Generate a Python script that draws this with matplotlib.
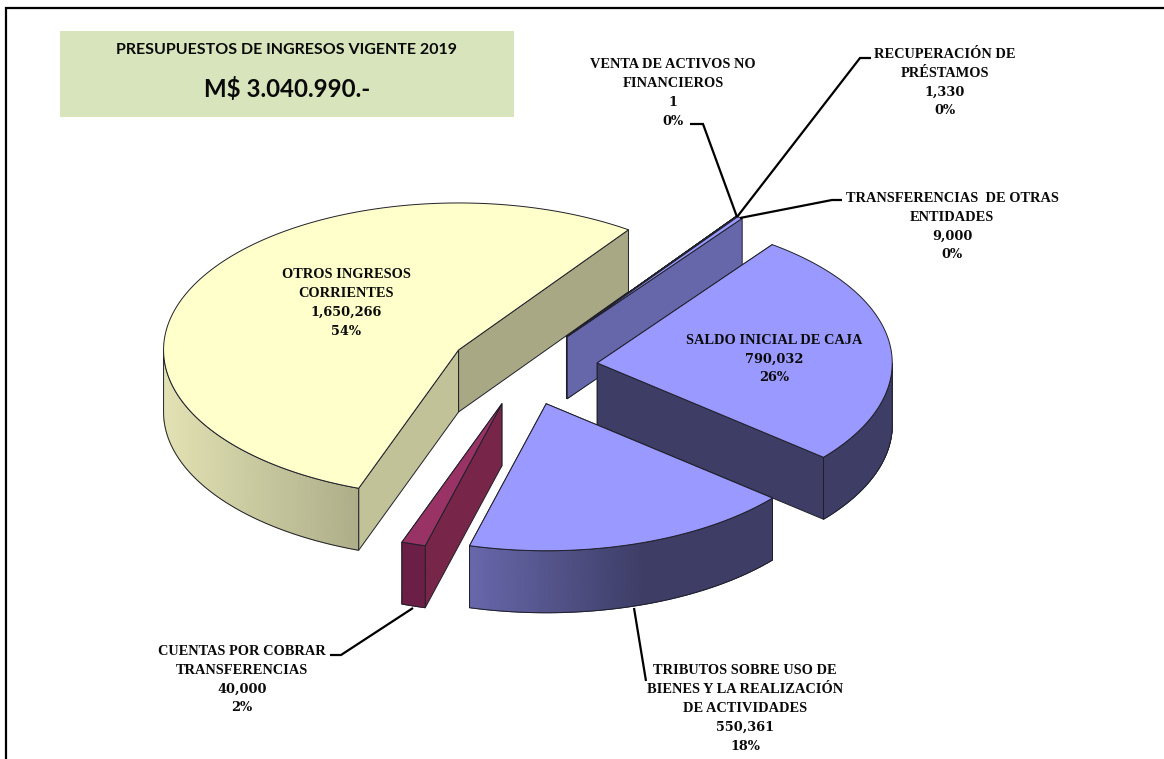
import numpy as np
import matplotlib
matplotlib.use("Agg")
import matplotlib.pyplot as plt
from matplotlib.colors import LinearSegmentedColormap
from matplotlib.patches import Polygon, Rectangle

# ---- data (counter-clockwise from the first slice) ----
names = ["OTROS INGRESOS\nCORRIENTES", "CUENTAS POR COBRAR\nTRANSFERENCIAS",
         "TRIBUTOS SOBRE USO DE\nBIENES Y LA REALIZACIÓN\nDE ACTIVIDADES",
         "SALDO INICIAL DE CAJA", "TRANSFERENCIAS  DE OTRAS\nENTIDADES",
         "RECUPERACIÓN DE\nPRÉSTAMOS", "VENTA DE ACTIVOS NO\nFINANCIEROS"]
values = [1650266, 40000, 550361, 790032, 9000, 1330, 1]
pct_labels = ["54%", "2%", "18%", "26%", "0%", "0%", "0%"]
title_line = "PRESUPUESTOS DE INGRESOS VIGENTE 2019"
total_line = "M$ 3.040.990.-"

# ---- styles ----
top_colors = ["#FFFFCC", "#993366", "#9999FF", "#9999FF", "#9999FF", "#9999FF", "#9999FF"]
start_wall = ["#A8A884", "#6B1F47", "#3D3D66", "#3D3D66", "#6666AA", "#6666AA", "#6666AA"]
end_wall = ["#C2C299", "#772549", "#3D3D66", "#3D3D66", "#6666AA", "#6666AA", "#6666AA"]
outer_grad = [("#E2E2B4", "#AEAE8A", 163, 358), ("#6B1F47", "#6B1F47", 400, 424),
              ("#6868AC", "#3D3D66", 468, 645), ("#3D3D66", "#3D3D66", 597, 893),
              ("#6666AA", "#6666AA", 700, 800), ("#6666AA", "#6666AA", 700, 800),
              ("#6666AA", "#6666AA", 700, 800)]
draw_order = [0, 6, 5, 4, 3, 1, 2]
label_xy = [(346, 301.5), (242, 678), (745, 707), (774, 357.5), (952, 225), (945, 81), (673, 91.5)]
LINE_STEP = 18.9
leaders = [None,
           [(413, 608), (341, 655), (330, 655)],
           [(634, 608), (646, 681)],
           None,
           [(740, 218), (832, 200), (842, 200)],
           [(737, 217), (860, 58), (871, 58)],
           [(737, 217), (703, 124), (690, 124)]]

CX, CY, RX, RY, DEPTH, EXPLODE = 524, 367.5, 295, 147, 62, 0.25
START = 54.84
EDGE = dict(edgecolor="#20202a", linewidth=0.7, joinstyle="round")

plt.rcParams["font.family"] = ["Liberation Serif", "DejaVu Serif"]
fig = plt.figure(figsize=(11.64, 7.59), dpi=100, facecolor="white")
ax = fig.add_axes([0, 0, 1, 1])
ax.set_xlim(0, 1164)
ax.set_ylim(759, 0)
ax.axis("off")

# frame and heading box
ax.plot([6, 6, 1164], [759, 8, 8], color="black", lw=1.6, solid_joinstyle="miter", zorder=1)
ax.add_patch(Rectangle((60, 31), 454, 86, facecolor="#D8E4BC", edgecolor="none", zorder=1))
ax.text(287, 50, title_line, family="Lato", weight="bold", fontsize=11.55, ha="center", va="center", color="#0a0a0a", zorder=5)
ax.text(287, 89, total_line, family="Lato", weight="bold", fontsize=17.3, ha="center", va="center", color="#0a0a0a", zorder=5)

# slice angles from the values
vals = np.array(values, dtype=float)
sweeps = vals / vals.sum() * 360
starts = START + np.concatenate([[0], np.cumsum(sweeps)[:-1]])


def draw_slice(i, z):
    a0, a1 = starts[i], starts[i] + sweeps[i]
    mid = np.radians((a0 + a1) / 2)
    ax0 = CX + EXPLODE * RX * np.cos(mid)
    ay0 = CY - EXPLODE * (RY + 5) * np.sin(mid)
    t = np.radians(np.linspace(a0, a1, max(3, int(sweeps[i] * 3))))
    xs = ax0 + RX * np.cos(t)
    ys = ay0 - RY * np.sin(t)
    # radial walls: the one lower on the page is painted last
    walls = [(0, start_wall[i]), (-1, end_wall[i])]
    walls.sort(key=lambda w: ys[w[0]])
    for idx, col in walls:
        ax.add_patch(Polygon([(ax0, ay0), (xs[idx], ys[idx]), (xs[idx], ys[idx] + DEPTH), (ax0, ay0 + DEPTH)],
                             closed=True, facecolor=col, zorder=z, **EDGE))
    # front outer wall with gradient
    front = np.sin(t) <= 0.001
    if front.sum() >= 2:
        fx, fy = xs[front], ys[front]
        X = np.vstack([fx, fx])
        Y = np.vstack([fy, fy + DEPTH])
        c0, c1, g0, g1 = outer_grad[i]
        cmap = LinearSegmentedColormap.from_list("w", [c0, c1])
        C = np.clip((X - g0) / (g1 - g0), 0, 1)
        ax.pcolormesh(X, Y, C, cmap=cmap, vmin=0, vmax=1, shading="gouraud", zorder=z + 0.1)
        ox = np.r_[fx, fx[::-1]]
        oy = np.r_[fy, (fy + DEPTH)[::-1]]
        ax.add_patch(Polygon(np.c_[ox, oy], closed=True, facecolor="none", zorder=z + 0.2, **EDGE))
    # top face
    ax.add_patch(Polygon(np.c_[np.r_[ax0, xs], np.r_[ay0, ys]], closed=True,
                         facecolor=top_colors[i], zorder=z + 0.3, **EDGE))


for n, i in enumerate(draw_order):
    draw_slice(i, 2 + n)

# leaders and labels
for i, pts in enumerate(leaders):
    if pts:
        p = np.array(pts)
        ax.plot(p[:, 0], p[:, 1], color="black", lw=1.6, solid_joinstyle="miter", solid_capstyle="butt", zorder=20)
for i in range(len(values)):
    name_lines = names[i].split("\n")
    rows = [(s, "Liberation Serif", 10.4) for s in name_lines]
    rows += [(f"{values[i]:,}", "DejaVu Serif", 9.3), (pct_labels[i], "DejaVu Serif", 9.3)]
    x0, yc = label_xy[i]
    y_first = yc - LINE_STEP * (len(rows) - 1) / 2
    for k, (s, fam, size) in enumerate(rows):
        ax.text(x0, y_first + k * LINE_STEP, s, family=fam, fontsize=size, weight="bold", ha="center",
                va="center_baseline", color="#0a0a0a", zorder=21)

fig.savefig("out.png", dpi=100)
